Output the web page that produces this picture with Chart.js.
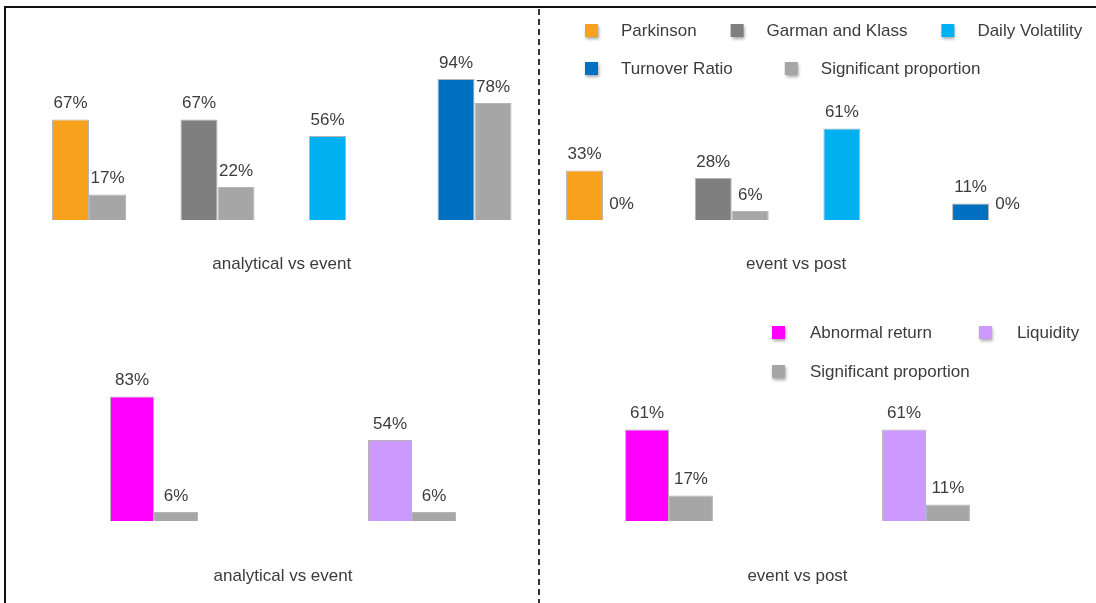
<!DOCTYPE html>
<html>
<head>
<meta charset="utf-8">
<script src="https://cdn.jsdelivr.net/npm/chart.js@4.4.1/dist/chart.umd.min.js"></script>
<style>
  body { margin: 0; background: #fff; }
  #wrap { position: relative; width: 1096px; height: 603px; overflow: hidden; background: #fff; }
  #wrap canvas { position: absolute; }
  #frame { position: absolute; left: 4px; top: 6px; width: 1092px; height: 597px;
           border-top: 2px solid #111; border-left: 2px solid #111; box-sizing: border-box; }
  #divider { position: absolute; left: 538px; top: 9px; width: 2px; height: 594px;
             background: repeating-linear-gradient(to bottom, #333 0 6px, transparent 6px 10px); }
</style>
</head>
<body>
<div id="wrap">
  <canvas id="volAE" width="548" height="300" style="left:0;top:0"></canvas>
  <canvas id="volEP" width="560" height="300" style="left:536px;top:0"></canvas>
  <canvas id="retAE" width="548" height="303" style="left:0;top:300px"></canvas>
  <canvas id="retEP" width="560" height="303" style="left:536px;top:300px"></canvas>
  <div id="frame"></div>
  <div id="divider"></div>
</div>
<script>
// volatility measures
const volCategories = ['Parkinson', 'Garman and Klass', 'Daily Volatility', 'Turnover Ratio'];
const volColors = ['#F8A11C', '#7F7F7F', '#00B0F0', '#0070C0'];
const volAnalyticalEvent = [67, 67, 56, 94];
const volAnalyticalEventSig = [17, 22, null, 78];
const volEventPost = [33, 28, 61, 11];
const volEventPostSig = [0, 6, null, 0];

// return / liquidity measures
const retCategories = ['Abnormal return', 'Liquidity'];
const retColors = ['#FF00FF', '#CC99FF'];
const retAnalyticalEvent = [83, 54];
const retAnalyticalEventSig = [6, 6];
const retEventPost = [61, 61];
const retEventPostSig = [17, 11];

const sigLabel = 'Significant proportion';
const sigColor = '#A6A6A6';

const FAMILY = '"Liberation Sans", Arial, sans-serif';
const FONT = '17px ' + FAMILY;
const TEXT = '#3c3c3c';

// percent labels above every bar
const barLabels = {
  id: 'barLabels',
  afterDatasetsDraw(chart) {
    const ctx = chart.ctx;
    ctx.save();
    ctx.font = FONT;
    ctx.fillStyle = TEXT;
    ctx.textAlign = 'center';
    ctx.textBaseline = 'middle';
    chart.data.datasets.forEach((ds, i) => {
      chart.getDatasetMeta(i).data.forEach((bar, j) => {
        const v = ds.data[j];
        if (v === null || v === undefined) return;
        ctx.fillText(v + '%', bar.x, bar.y - 16);
      });
    });
    ctx.restore();
  }
};

// small square legend with shadowed swatches, one gap per row
function boxLegend(rows, x, ys, textOffset, gaps) {
  return {
    id: 'boxLegend',
    afterDraw(chart) {
      const ctx = chart.ctx;
      ctx.save();
      ctx.font = FONT;
      ctx.textBaseline = 'middle';
      rows.forEach((row, r) => {
        let cx = x;
        const y = ys[r];
        row.forEach(item => {
          ctx.save();
          ctx.shadowColor = 'rgba(0,0,0,0.35)';
          ctx.shadowBlur = 3;
          ctx.shadowOffsetX = 1;
          ctx.shadowOffsetY = 2;
          ctx.fillStyle = item.color;
          ctx.fillRect(cx, y - 7, 13, 13);
          ctx.restore();
          ctx.fillStyle = TEXT;
          ctx.fillText(item.label, cx + textOffset, y);
          cx += textOffset + ctx.measureText(item.label).width + gaps[r];
        });
      });
      ctx.restore();
    }
  };
}

function makeChart(id, labels, colors, main, sig, title, pad, catPct, titlePad, extra) {
  return new Chart(document.getElementById(id), {
    type: 'bar',
    data: {
      labels: labels,
      datasets: [
        { data: main, backgroundColor: colors, borderColor: 'rgba(150,150,150,0.7)', borderWidth: 1,
          categoryPercentage: catPct, barPercentage: 1 },
        { data: sig, backgroundColor: sigColor, borderColor: 'rgba(150,150,150,0.7)', borderWidth: 1,
          categoryPercentage: catPct, barPercentage: 1 }
      ]
    },
    options: {
      responsive: false,
      animation: false,
      layout: { padding: pad },
      plugins: {
        legend: { display: false },
        tooltip: { enabled: false }
      },
      scales: {
        x: {
          grid: { display: false, drawTicks: false },
          border: { display: false },
          ticks: { display: false },
          title: {
            display: true,
            text: title,
            color: TEXT,
            font: { family: FAMILY, size: 17 },
            padding: titlePad
          }
        },
        y: { display: false, min: 0, max: 100 }
      }
    },
    plugins: extra ? [barLabels, extra] : [barLabels]
  });
}

const volLegendItems = volCategories.map((c, i) => ({ label: c, color: volColors[i] }))
  .concat([{ label: sigLabel, color: sigColor }]);
const retLegendItems = retCategories.map((c, i) => ({ label: c, color: retColors[i] }))
  .concat([{ label: sigLabel, color: sigColor }]);

makeChart('volAE', volCategories, volColors, volAnalyticalEvent, volAnalyticalEventSig,
  'analytical vs event', { top: 70, left: 24.75, right: 9.25, bottom: 0 }, 0.576, { top: 34.6, bottom: 25 });

makeChart('volEP', volCategories, volColors, volEventPost, volEventPostSig,
  'event vs post', { top: 70, left: 2.7, right: 42.6, bottom: 0 }, 0.575, { top: 34.6, bottom: 25 },
  boxLegend([volLegendItems.slice(0, 3), volLegendItems.slice(3)], 49, [31, 69], 36, [34, 52]));

makeChart('retAE', retCategories, retColors, retAnalyticalEvent, retAnalyticalEventSig,
  'analytical vs event', { top: 71, left: 25, right: 7, bottom: 0 }, 0.341, { top: 45.6, bottom: 16 });

makeChart('retEP', retCategories, retColors, retEventPost, retEventPostSig,
  'event vs post', { top: 71, left: 4.5, right: 41.5, bottom: 0 }, 0.342, { top: 45.6, bottom: 16 },
  boxLegend([retLegendItems.slice(0, 2), retLegendItems.slice(2)], 236, [33, 72], 38, [47, 47]));
</script>
</body>
</html>
